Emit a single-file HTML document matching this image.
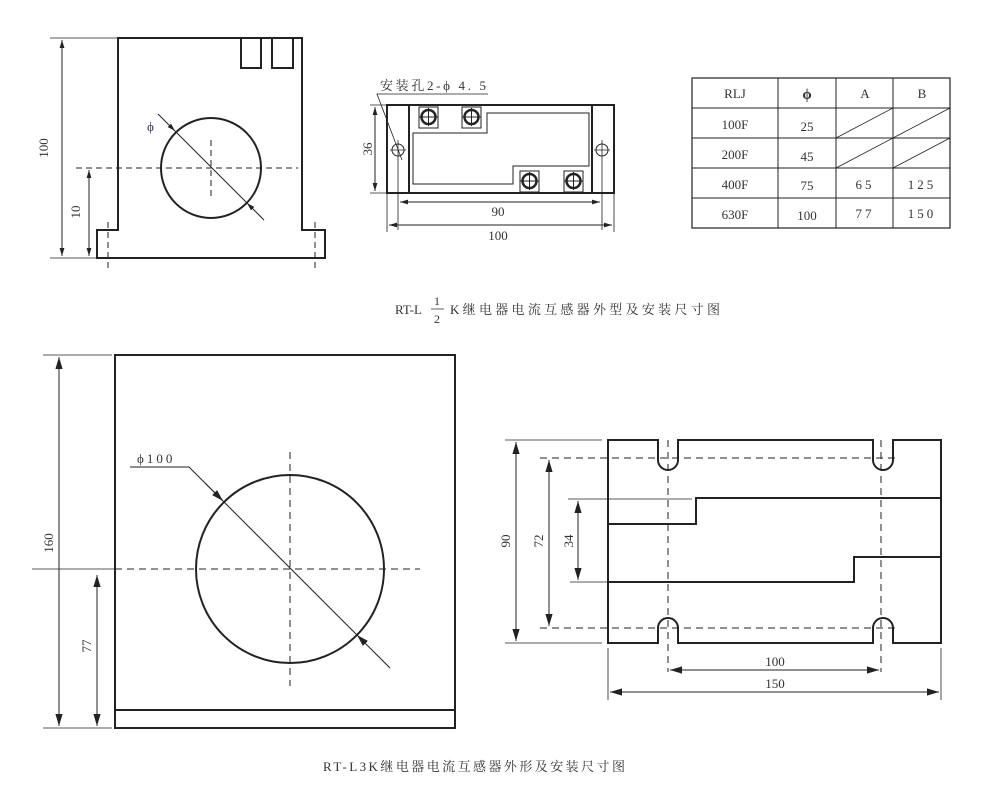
<!DOCTYPE html>
<html><head><meta charset="utf-8"><style>
html,body{margin:0;padding:0;background:#fff;}
svg{display:block;font-family:"Liberation Serif","Noto Serif CJK SC",serif;}
</style></head><body>
<svg width="1000" height="789" viewBox="0 0 1000 789" xmlns="http://www.w3.org/2000/svg">
<defs>
<marker id="a" viewBox="0 0 10 10" refX="10" refY="5" markerWidth="12" markerHeight="12" orient="auto-start-reverse"><path d="M0,2 L10,5 L0,8z" fill="#222"/></marker>
<marker id="s" viewBox="0 0 10 10" refX="10" refY="5" markerWidth="8" markerHeight="8" orient="auto-start-reverse"><path d="M0,2 L10,5 L0,8z" fill="#222"/></marker>
</defs>
<g fill="none" stroke="#222">
<path d="M97,258 L97,230 L118,230 L118,38 L302,38 L302,230 L325,230 L325,258 Z" stroke-width="2"/>
<rect x="241" y="38" width="20" height="30" stroke-width="2"/>
<rect x="272" y="38" width="21" height="30" stroke-width="2"/>
<circle cx="211" cy="168" r="50" stroke-width="2"/>
<line x1="76" y1="168" x2="298" y2="168" stroke-dasharray="6,4" stroke-width="1"/>
<line x1="211" y1="140" x2="211" y2="196" stroke-dasharray="6,4"/>
<line x1="108" y1="222" x2="108" y2="270" stroke-dasharray="6,4"/>
<line x1="315" y1="222" x2="315" y2="270" stroke-dasharray="6,4"/>
<line x1="50" y1="38" x2="118" y2="38" stroke-width="0.8"/>
<line x1="50" y1="258" x2="97" y2="258" stroke-width="0.8"/>
<line x1="62" y1="40" x2="62" y2="256" marker-start="url(#s)" marker-end="url(#s)"/>
<line x1="89" y1="170" x2="89" y2="256" marker-start="url(#s)" marker-end="url(#s)"/>
<line x1="158" y1="114" x2="175" y2="131" marker-end="url(#s)"/>
<line x1="175" y1="131" x2="247" y2="203"/>
<line x1="264" y1="220" x2="247" y2="203" marker-end="url(#s)"/>

<rect x="387" y="105" width="227" height="88" stroke-width="2"/>
<line x1="409" y1="105" x2="409" y2="193" stroke-width="2"/>
<line x1="592" y1="105" x2="592" y2="193" stroke-width="2"/>
<path d="M413,133 L487,133 L487,113 L589,113 L589,166 L513,166 L513,184 L413,184 Z" stroke-width="1"/>
<g stroke-width="1">
<rect x="419" y="107" width="19" height="21"/><circle cx="428.5" cy="117" r="7" stroke-width="2.5"/><path d="M419,117h19M428.5,108v18"/>
<rect x="462" y="107" width="19" height="21"/><circle cx="471.5" cy="117" r="7" stroke-width="2.5"/><path d="M462,117h19M471.5,108v18"/>
<rect x="520" y="171" width="19" height="21"/><circle cx="529.5" cy="181" r="7" stroke-width="2.5"/><path d="M520,181h19M529.5,172v18"/>
<rect x="564" y="171" width="19" height="21"/><circle cx="573.5" cy="181" r="7" stroke-width="2.5"/><path d="M564,181h19M573.5,172v18"/>
</g>
<circle cx="398" cy="150" r="6" stroke-width="1"/><path d="M390,150h16M398,140v90" stroke-width="0.8"/>
<circle cx="602" cy="150" r="6" stroke-width="1"/><path d="M594,150h16M602,140v90" stroke-width="0.8"/>
<line x1="387" y1="193" x2="387" y2="232" stroke-width="0.8"/>
<line x1="614" y1="193" x2="614" y2="232" stroke-width="0.8"/>
<line x1="370" y1="105" x2="387" y2="105" stroke-width="0.8"/>
<line x1="370" y1="193" x2="387" y2="193" stroke-width="0.8"/>
<line x1="375" y1="107" x2="375" y2="191" marker-start="url(#s)" marker-end="url(#s)"/>
<line x1="400" y1="202" x2="600" y2="202" marker-start="url(#s)" marker-end="url(#s)" stroke-width="1"/>
<line x1="389" y1="225" x2="612" y2="225" marker-start="url(#s)" marker-end="url(#s)" stroke-width="1"/>
<path d="M488,94 L377,94 L402,160" stroke-width="0.8"/>

<rect x="692" y="78" width="258" height="150" stroke-width="1.2"/>
<path d="M692,108h258M692,138h258M692,168h258M692,198h258M778,78v150M836,78v150M893,78v150" stroke-width="1"/>
<path d="M836,138L893,108M836,168L893,138M893,138L950,108M893,168L950,138" stroke-width="0.8"/>

<rect x="115" y="355" width="340" height="373" stroke-width="2"/>
<line x1="115" y1="710" x2="455" y2="710" stroke-width="2"/>
<circle cx="290" cy="569" r="94" stroke-width="2"/>
<line x1="32" y1="569" x2="115" y2="569" stroke-width="0.8"/>
<line x1="115" y1="569" x2="420" y2="569" stroke-dasharray="7,5"/>
<line x1="290" y1="452" x2="290" y2="686" stroke-dasharray="7,5"/>
<path d="M130,467 L189,467 L223,501" stroke-width="1"/>
<line x1="205" y1="483" x2="223" y2="501" marker-end="url(#a)"/>
<line x1="223" y1="501" x2="357" y2="635" stroke-width="1"/>
<line x1="390" y1="668" x2="357" y2="635" marker-end="url(#a)"/>
<line x1="43" y1="355" x2="112" y2="355" stroke-width="0.8"/>
<line x1="43" y1="728" x2="112" y2="728" stroke-width="0.8"/>
<line x1="59" y1="357" x2="59" y2="726" marker-start="url(#a)" marker-end="url(#a)"/>
<line x1="97" y1="575" x2="97" y2="726" marker-start="url(#a)" marker-end="url(#a)"/>

<path d="M608,440 L658,440 L658,460 A10,10 0 0 0 678,460 L678,440 L873,440 L873,460 A10,10 0 0 0 893,460 L893,440 L941,440 L941,643 L893,643 L893,628 A10,10 0 0 0 873,628 L873,643 L678,643 L678,628 A10,10 0 0 0 658,628 L658,643 L608,643 Z" stroke-width="2"/>
<path d="M608,524 L696,524 L696,498 L941,498" stroke-width="2"/>
<path d="M608,582 L854,582 L854,557 L941,557" stroke-width="2"/>
<line x1="540" y1="458" x2="900" y2="458" stroke-dasharray="7,5"/>
<line x1="540" y1="628" x2="900" y2="628" stroke-dasharray="7,5"/>
<line x1="668" y1="440" x2="668" y2="672" stroke-dasharray="7,5"/>
<line x1="881" y1="440" x2="881" y2="672" stroke-dasharray="7,5"/>
<line x1="505" y1="440" x2="602" y2="440" stroke-width="0.8"/>
<line x1="505" y1="643" x2="602" y2="643" stroke-width="0.8"/>
<line x1="568" y1="499" x2="692" y2="499" stroke-width="0.8"/>
<line x1="570" y1="582" x2="608" y2="582" stroke-width="0.8"/>
<line x1="516" y1="442" x2="516" y2="641" marker-start="url(#a)" marker-end="url(#a)"/>
<line x1="549" y1="460" x2="549" y2="626" marker-start="url(#a)" marker-end="url(#a)"/>
<line x1="578" y1="501" x2="578" y2="580" marker-start="url(#a)" marker-end="url(#a)"/>
<line x1="670" y1="670" x2="879" y2="670" marker-start="url(#a)" marker-end="url(#a)"/>
<line x1="608" y1="648" x2="608" y2="700" stroke-width="0.8"/>
<line x1="941" y1="648" x2="941" y2="700" stroke-width="0.8"/>
<line x1="610" y1="692" x2="939" y2="692" marker-start="url(#a)" marker-end="url(#a)"/>
</g>

<g fill="#333" font-size="13">
<text x="48" y="148" transform="rotate(-90 48 148)" text-anchor="middle">100</text>
<text x="80" y="212" transform="rotate(-90 80 212)" text-anchor="middle">10</text>
<text x="147" y="131" font-size="13" fill="#335">ϕ</text>
<text x="380" y="90" font-size="13" textLength="106">安装孔2-ϕ 4. 5</text>
<text x="372" y="149" transform="rotate(-90 372 149)" text-anchor="middle">36</text>
<text x="498" y="216" text-anchor="middle">90</text>
<text x="498" y="240" text-anchor="middle">100</text>
<text x="735" y="98" text-anchor="middle">RLJ</text>
<text x="807" y="99" text-anchor="middle" font-size="15" font-weight="bold">ϕ</text>
<text x="865" y="98" text-anchor="middle">A</text>
<text x="922" y="98" text-anchor="middle">B</text>
<text x="735" y="129" text-anchor="middle">100F</text>
<text x="807" y="131" text-anchor="middle">25</text>
<text x="735" y="159" text-anchor="middle">200F</text>
<text x="807" y="161" text-anchor="middle">45</text>
<text x="735" y="189" text-anchor="middle">400F</text>
<text x="807" y="190" text-anchor="middle">75</text>
<text x="865" y="189" text-anchor="middle" letter-spacing="3">65</text>
<text x="922" y="189" text-anchor="middle" letter-spacing="3">125</text>
<text x="735" y="219" text-anchor="middle">630F</text>
<text x="807" y="220" text-anchor="middle">100</text>
<text x="865" y="218" text-anchor="middle" letter-spacing="3">77</text>
<text x="922" y="218" text-anchor="middle" letter-spacing="3">150</text>
<text x="395" y="314" font-size="13">RT-L</text>
<text x="437" y="305" font-size="12" text-anchor="middle">1</text>
<line x1="431" y1="309" x2="444" y2="309" stroke="#333" stroke-width="0.8"/>
<text x="437" y="323" font-size="12" text-anchor="middle">2</text>
<text x="450" y="314" font-size="13" textLength="270">K继电器电流互感器外型及安装尺寸图</text>
<text x="137" y="463" font-size="13" letter-spacing="3">ϕ100</text>
<text x="53" y="543" transform="rotate(-90 53 543)" text-anchor="middle">160</text>
<text x="91" y="646" transform="rotate(-90 91 646)" text-anchor="middle">77</text>
<text x="510" y="541" transform="rotate(-90 510 541)" text-anchor="middle">90</text>
<text x="543" y="541" transform="rotate(-90 543 541)" text-anchor="middle">72</text>
<text x="573" y="541" transform="rotate(-90 573 541)" text-anchor="middle">34</text>
<text x="775" y="666" text-anchor="middle">100</text>
<text x="775" y="688" text-anchor="middle">150</text>
<text x="323" y="771" font-size="13" textLength="302">RT-L3K继电器电流互感器外形及安装尺寸图</text>
</g>
</svg>
</body></html>
